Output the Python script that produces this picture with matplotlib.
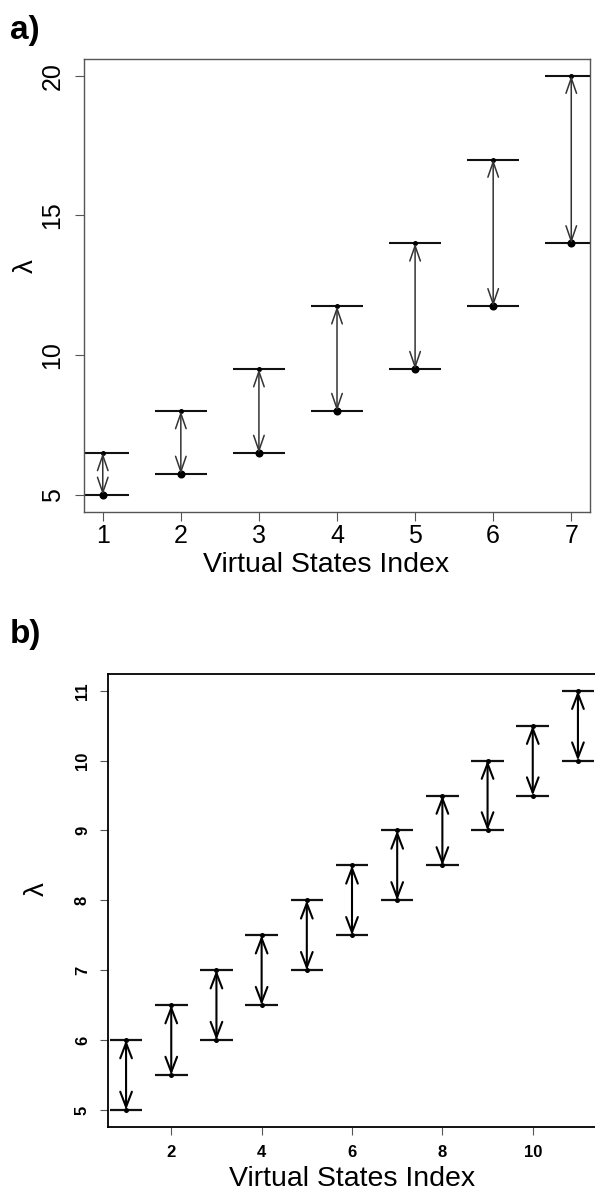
import matplotlib
matplotlib.use('Agg')
import matplotlib.pyplot as plt

plt.rcParams['font.family'] = ['Liberation Sans', 'DejaVu Sans']

# panel a: 7 virtual states
a_index = [1, 2, 3, 4, 5, 6, 7]
a_lower = [5, 5.75, 6.5, 8, 9.5, 11.75, 14]
a_upper = [6.5, 8, 9.5, 11.75, 14, 17, 20]
a_xticks = [1, 2, 3, 4, 5, 6, 7]
a_yticks = [5, 10, 15, 20]

# panel b: 11 virtual states
b_index = [1, 2, 3, 4, 5, 6, 7, 8, 9, 10, 11]
b_lower = [5, 5.5, 6, 6.5, 7, 7.5, 8, 8.5, 9, 9.5, 10]
b_upper = [6, 6.5, 7, 7.5, 8, 8.5, 9, 9.5, 10, 10.5, 11]
b_xticks = [2, 4, 6, 8, 10]
b_yticks = [5, 6, 7, 8, 9, 10, 11]

XLABEL = 'Virtual States Index'
YLABEL = 'λ'


def draw_intervals(ax, idx, lo, hi, half, seg_lw, arr_lw, arr_col,
                   ms_lo, ms_hi, head_len, head_w):
    # horizontal bars at both ends, double arrow in between, dots on the ends
    for x, l, h in zip(idx, lo, hi):
        ax.plot([x - half, x + half], [l, l], color='#111111', lw=seg_lw,
                solid_capstyle='butt')
        ax.plot([x - half, x + half], [h, h], color='#111111', lw=seg_lw,
                solid_capstyle='butt')
        ax.annotate('', xy=(x, h), xytext=(x, l),
                    arrowprops=dict(arrowstyle=f'<->,head_length={head_len},head_width={head_w}',
                                    mutation_scale=1, shrinkA=0, shrinkB=0,
                                    lw=arr_lw, color=arr_col))
        ax.plot([x], [l], 'o', color='black', ms=ms_lo, mew=0)
        ax.plot([x], [h], 'o', color='black', ms=ms_hi, mew=0)


fig = plt.figure(figsize=(5.95, 11.91), dpi=100)

# ---- panel a ----
ax1 = fig.add_axes([0.1412, 0.5704, 0.8504, 0.3801])
draw_intervals(ax1, a_index, a_lower, a_upper, 0.33, 1.5, 1.1, '#333333',
               5.8, 3.6, 11, 3.8)
ax1.set_xlim(0.76, 7.24)
ax1.set_ylim(4.4, 20.6)
ax1.set_xticks(a_xticks)
ax1.set_yticks(a_yticks)
for s in ax1.spines.values():
    s.set_color('#555555')
    s.set_linewidth(1.0)
ax1.tick_params(length=6.5, width=0.8, color='#555555', labelsize=18, pad=2.5)
ax1.tick_params(axis='y', labelrotation=90, pad=7.5)
for t in ax1.get_yticklabels():
    t.set_va('center')
ax1.set_xlabel(XLABEL, fontsize=20.5, labelpad=3)
ax1.xaxis.label.set_x(0.478)
ax1.set_ylabel(YLABEL, fontsize=20, labelpad=1)
ax1.yaxis.label.set_y(0.543)
fig.text(0.017, 1 - 30 / 1191, 'a)', fontsize=24, fontweight='bold', va='center')

# ---- panel b ----
ax2 = fig.add_axes([0.1815, 0.054, 0.8202, 0.3801])
draw_intervals(ax2, b_index, b_lower, b_upper, 0.36, 1.6, 1.5, 'black',
               3.6, 3.6, 11, 4.2)
ax2.set_xlim(0.6, 11.4)
ax2.set_ylim(4.76, 11.24)
ax2.set_xticks(b_xticks)
ax2.set_yticks(b_yticks)
for s in ax2.spines.values():
    s.set_color('black')
    s.set_linewidth(1.3)
ax2.tick_params(length=6, width=0.8, color='#555555', labelsize=12, pad=7)
ax2.tick_params(axis='y', labelrotation=90, pad=7)
for t in ax2.get_xticklabels() + ax2.get_yticklabels():
    t.set_fontweight('bold')
for t in ax2.get_yticklabels():
    t.set_va('center')
ax2.set_xlabel(XLABEL, fontsize=20.5, labelpad=4.5)
ax2.set_ylabel(YLABEL, fontsize=20, labelpad=18)
ax2.yaxis.label.set_y(0.525)
fig.text(0.017, 1 - 635 / 1191, 'b)', fontsize=24, fontweight='bold', va='center')

fig.savefig('out.png', dpi=100)
